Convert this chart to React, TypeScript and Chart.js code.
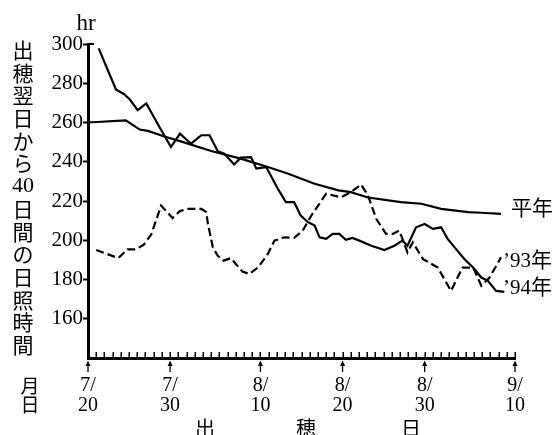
import React, { useEffect, useRef } from 'react';
import { Chart, registerables } from 'chart.js';

Chart.register(...registerables);

// x axis: days after 7/20
const xMin = 0;
const xMax = 52;
const tickDays = [0, 10, 21, 31, 41, 52];
const tickLabels = [['7/', '20'], ['7/', '30'], ['8/', '10'], ['8/', '20'], ['8/', '30'], ['9/', '10']];
const yTickValues = [160, 180, 200, 220, 240, 260, 280, 300];
const yMin = 140;
const yMax = 300;

// 平年 (normal year)
const avgDays = [0, 4.6, 6.3, 7.3, 9.5, 11.3, 15.0, 18.6, 21.9, 24.4, 25.9, 27.6, 30.5, 32.0, 34.1, 38.1, 40.6, 43.0, 46.3, 47.9, 50.3];
const avgValues = [260, 261.1, 256.4, 255.7, 252.6, 250.4, 245.5, 241.6, 237.3, 233.9, 231.5, 228.8, 225.4, 224.5, 221.8, 219.4, 218.6, 216.0, 214.3, 214.0, 213.4];

// '94
const y94Days = [1.3, 3.4, 4.4, 5.1, 6.05, 7.1, 8.7, 10.1, 11.2, 12.55, 13.8, 14.8, 15.8, 16.6, 17.8, 18.6, 19.85, 20.5, 21.7, 23.1, 24.1, 25.1, 25.9, 26.8, 27.6, 28.2, 29.0, 29.8, 30.6, 31.4, 32.2, 33.05, 34.5, 36.1, 37.3, 38.3, 38.9, 39.95, 41.0, 42.0, 43.0, 43.8, 44.8, 45.8, 46.9, 47.9, 48.7, 49.7, 50.7];
const y94Values = [297.8, 276.8, 274.4, 271.7, 266.3, 269.7, 257.7, 247.5, 254.3, 249.2, 253.5, 253.5, 245.4, 244.1, 238.6, 242.1, 242.4, 236.5, 237.3, 226.4, 219.4, 219.4, 212.6, 209.2, 207.5, 201.5, 200.7, 203.2, 203.2, 200.2, 201.2, 199.8, 197.2, 195.0, 197.2, 199.8, 197.2, 206.6, 208.3, 205.8, 206.6, 200.7, 195.6, 190.6, 186.1, 181.0, 179.3, 174.2, 173.7];

// '93
const y93Days = [1.0, 3.7, 4.8, 5.85, 6.8, 7.7, 8.9, 10.3, 11.2, 12.2, 13.8, 14.4, 14.6, 15.2, 15.8, 16.5, 17.4, 18.0, 18.8, 19.65, 20.7, 21.9, 22.7, 23.9, 25.1, 26.15, 27.2, 29.0, 30.8, 32.0, 33.25, 34.1, 35.1, 36.3, 37.1, 37.9, 38.3, 38.9, 39.55, 40.8, 42.6, 44.2, 45.6, 46.9, 47.9, 48.9, 50.3];
const y93Values = [195.0, 190.9, 195.4, 195.4, 197.8, 202.9, 217.7, 211.3, 214.9, 216.0, 216.0, 214.3, 208.5, 196.4, 192.1, 189.6, 190.9, 187.9, 184.1, 182.8, 186.1, 193.0, 199.8, 201.5, 201.2, 204.9, 212.6, 223.7, 221.9, 224.5, 228.4, 222.8, 210.9, 203.2, 203.2, 204.9, 200.7, 193.8, 198.9, 190.4, 186.1, 174.2, 186.1, 186.1, 176.8, 181.0, 191.3];

const seriesNames = ['平年', '’93年', '’94年'];
const yTitleChars = ['出', '穂', '翌', '日', 'か', 'ら', '40', '日', '間', 'の', '日', '照', '時', '間'];
const xTitleChars = ['出', '穂', '日'];
const unitLabel = 'hr';
const rowLabels = ['月', '日'];

const SERIF = '"Liberation Serif", "Noto Sans CJK JP", serif';
const CJK = '"Noto Sans CJK JP", "Liberation Serif", sans-serif';

const toPoints = (xs: number[], ys: number[]) => xs.map((x, i) => ({ x, y: ys[i] }));

const decorPlugin = {
  id: 'decor',
  afterDraw(chart: any) {
    const ctx = chart.ctx as CanvasRenderingContext2D;
    const xs = chart.scales.x;
    const area = chart.chartArea;
    ctx.save();
    ctx.fillStyle = '#000';
    ctx.strokeStyle = '#000';
    // daily minor ticks pointing up
    ctx.lineWidth = 1.5;
    for (let d = xMin + 1; d <= xMax; d++) {
      const px = Math.round(xs.getPixelForValue(d)) + 0.25;
      ctx.beginPath();
      ctx.moveTo(px, area.bottom);
      ctx.lineTo(px, area.bottom - 6);
      ctx.stroke();
    }
    // arrows under labelled days
    tickDays.forEach((d) => {
      const px = xs.getPixelForValue(d);
      ctx.lineWidth = 1.3;
      ctx.beginPath();
      ctx.moveTo(px, area.bottom + 5);
      ctx.lineTo(px, area.bottom + 14);
      ctx.stroke();
      ctx.beginPath();
      ctx.moveTo(px, area.bottom + 2.5);
      ctx.lineTo(px - 2.5, area.bottom + 8);
      ctx.lineTo(px + 2.5, area.bottom + 8);
      ctx.closePath();
      ctx.fill();
    });
    // small cap at the top of the y axis
    ctx.lineWidth = 2;
    ctx.beginPath();
    ctx.moveTo(area.left, area.top);
    ctx.lineTo(area.left + 6, area.top);
    ctx.stroke();
    // y title (vertical)
    ctx.textAlign = 'center';
    ctx.textBaseline = 'middle';
    yTitleChars.forEach((c, i) => {
      ctx.font = /\d/.test(c) ? `22px ${SERIF}` : `21px ${CJK}`;
      ctx.fillText(c, 23, 50 + i * 22.7);
    });
    // unit
    ctx.font = `23px ${SERIF}`;
    ctx.fillText(unitLabel, 86, 24);
    // row labels 月 / 日
    ctx.font = `19px ${CJK}`;
    ctx.fillText(rowLabels[0], 30, 386);
    ctx.fillText(rowLabels[1], 30, 405);
    // x title
    ctx.font = `20px ${CJK}`;
    const xt = [205, 306, 411];
    xTitleChars.forEach((c, i) => ctx.fillText(c, xt[i], 428));
    // series labels
    ctx.textAlign = 'left';
    ctx.font = `21px ${SERIF}`;
    ctx.fillText(seriesNames[0], 511, 209);
    ctx.fillText(seriesNames[1], 503, 261);
    ctx.fillText(seriesNames[2], 503, 288);
    ctx.restore();
  },
};

export default function App() {
  const ref = useRef<HTMLCanvasElement | null>(null);
  useEffect(() => {
    if (!ref.current) return;
    const chart = new Chart(ref.current, {
      type: 'line',
      data: {
        datasets: [
          {
            label: seriesNames[0],
            data: toPoints(avgDays, avgValues),
            borderColor: '#000',
            borderWidth: 2.2,
            pointRadius: 0,
            tension: 0,
            fill: false,
          },
          {
            label: seriesNames[1],
            data: toPoints(y93Days, y93Values),
            borderColor: '#000',
            borderWidth: 2.2,
            borderDash: [8, 4],
            pointRadius: 0,
            tension: 0,
            fill: false,
          },
          {
            label: seriesNames[2],
            data: toPoints(y94Days, y94Values),
            borderColor: '#000',
            borderWidth: 2.2,
            pointRadius: 0,
            tension: 0,
            fill: false,
          },
        ],
      },
      options: {
        responsive: false,
        animation: false,
        layout: { padding: { top: 44, right: 43, left: 0, bottom: 0 } },
        plugins: { legend: { display: false }, tooltip: { enabled: false } },
        scales: {
          x: {
            type: 'linear',
            min: xMin,
            max: xMax,
            afterBuildTicks: (scale: any) => {
              scale.ticks = tickDays.map((v) => ({ value: v }));
            },
            afterFit: (scale: any) => {
              scale.height = 77;
            },
            ticks: {
              autoSkip: false,
              maxRotation: 0,
              padding: 18,
              color: '#000',
              font: { family: SERIF, size: 20, lineHeight: 1 },
              callback: (_v: any, i: number) => tickLabels[i],
            },
            grid: { display: false, drawTicks: false },
            border: { display: true, color: '#000', width: 3 },
          },
          y: {
            min: yMin,
            max: yMax,
            afterBuildTicks: (scale: any) => {
              scale.ticks = yTickValues.map((v) => ({ value: v }));
            },
            afterFit: (scale: any) => {
              scale.width = 88;
            },
            ticks: {
              padding: 0,
              color: '#000',
              font: { family: SERIF, size: 21 },
              callback: (v: any) => String(v),
            },
            grid: {
              display: true,
              drawOnChartArea: false,
              drawTicks: true,
              tickLength: 5,
              tickWidth: 2,
              tickColor: '#000',
              color: '#000',
            },
            border: { display: true, color: '#000', width: 3 },
          },
        },
      },
      plugins: [decorPlugin],
    });
    return () => chart.destroy();
  }, []);
  return (
    <div style={{ position: 'absolute', left: 0, top: 0, width: 558, height: 435, background: '#fff' }}>
      <canvas ref={ref} width={558} height={435} style={{ display: 'block' }} />
    </div>
  );
}
